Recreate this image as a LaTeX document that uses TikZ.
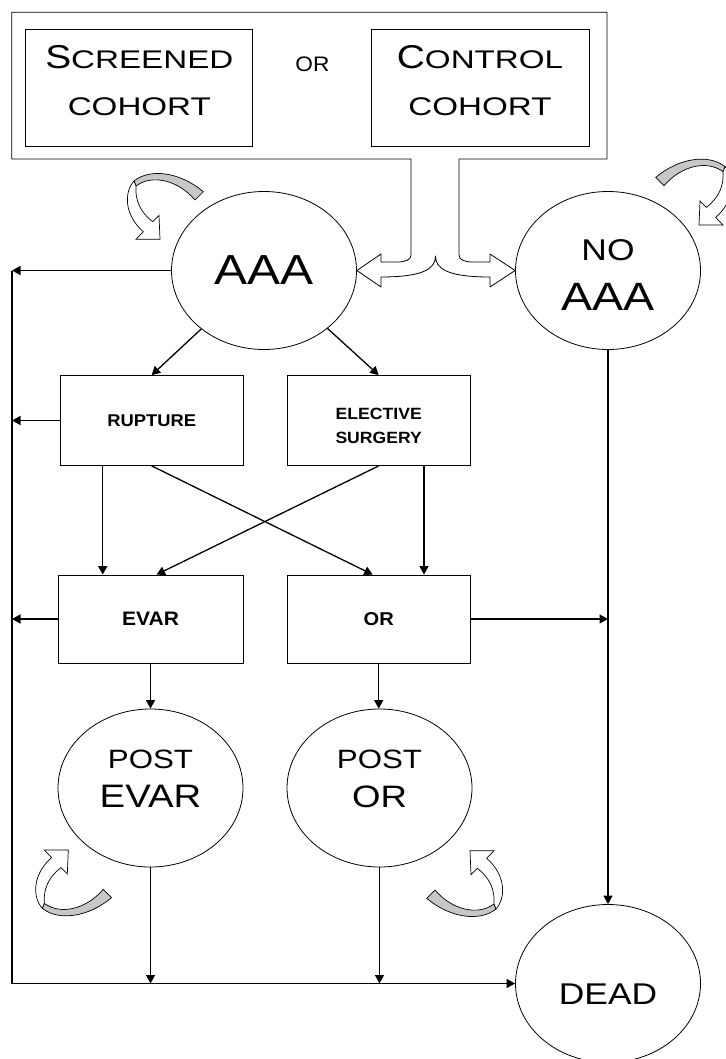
\documentclass[tikz,border=0pt]{standalone}
\usepackage{fontspec}
\setmainfont{Liberation Sans}[FakeStretch=1.18]
\newfontfamily\widefont{Liberation Sans}[FakeStretch=1.3]
\newfontfamily\boxfont{Liberation Sans}[FakeStretch=1.08]
\usepackage{tikz}
\usetikzlibrary{arrows.meta,shapes.geometric}

\newcommand{\fsz}[2]{\fontsize{#1}{#2}\selectfont}

\tikzset{
  state/.style={draw, ellipse, line width=0.8pt, minimum width=185pt, minimum height=158pt, inner sep=0pt, align=center},
  event/.style={draw, rectangle, line width=0.8pt, minimum width=183pt, minimum height=90pt, inner sep=0pt, align=center},
  cohort/.style={draw, rectangle, line width=0.8pt, minimum height=117pt, inner sep=0pt, align=center},
  frame/.style={line width=0.8pt, line join=round},
  flow/.style={line width=1.3pt, -{Triangle[length=8.5pt,width=9pt]}},
  looparrow/.pic={
    \filldraw[line width=0.7pt, fill=black!22] (43.3,-47.6) .. controls (20,-67.3) and (-10,-71.3) .. (-26,-58.3)
      -- (-24,-53.3) .. controls (-8,-65.3) and (18,-59.3) .. (35,-39.3) -- cycle;
    \filldraw[line width=0.7pt, fill=white] (-26,-58.3) .. controls (-36,-47.3) and (-36,-24.3) .. (-16.7,-7.6)
      -- (-24,0) -- (0,0) -- (-1,-24) -- (-7.3,-17.6)
      .. controls (-20,-27.3) and (-25,-39.3) .. (-24,-53.3) -- cycle;
  }
}

\begin{document}
\begin{tikzpicture}[x=1pt, y=-1pt]
    \useasboundingbox (0,0) rectangle (725,1059);

    % cohorts
    \node[cohort, minimum width=227pt, font=\widefont\fsz{25.5}{47}, text depth=14pt] (screened) at (139.3,87.5) {{\normalfont\fsz{33}{47}S}CREENED\\COHORT};
    \node[cohort, minimum width=218pt, font=\widefont\fsz{25.5}{47}, text depth=14pt] (control) at (480,87.5) {{\normalfont\fsz{33}{47}C}ONTROL\\COHORT};
    \node[font=\boxfont\fsz{21}{21}] (orword) at (312.5,64) {OR};

    % states
    \node[state, font=\fsz{42}{42}] (aaa) at (264,270.5) {AAA};
    \node[state, font=\fsz{39.5}{50}, text height=79pt] (noaaa) at (608,270.5) {{\fsz{30}{50}NO}\\AAA};
    \node[event, font=\boxfont\bfseries\fsz{17}{17}] (rupture) at (151.7,420.5) {RUPTURE};
    \node[event, font=\boxfont\bfseries\fsz{16.3}{24}, text height=46.7pt] (elective) at (378.7,420.5) {ELECTIVE\\SURGERY};
    \node[event, minimum width=185pt, minimum height=88pt, font=\boxfont\bfseries\fsz{19.5}{19.5}] (evar) at (150.5,619) {EVAR};
    \node[event, minimum height=88pt, font=\boxfont\bfseries\fsz{18.6}{18.6}] (orbox) at (378.7,619) {OR};
    \node[state, font=\fsz{32.5}{39}, text depth=17.7pt] (postevar) at (150.5,788) {{\fsz{26.5}{39}POST}\\EVAR};
    \node[state, font=\fsz{31}{39}, text depth=17.7pt] (postor) at (379.5,788) {{\fsz{26.5}{39}POST}\\OR};
    \node[state, font=\fsz{30}{30}, text height=42.7pt] (dead) at (608,983.5) {DEAD};

    % frame round the cohorts, ending in the double arrow
    \draw[frame] (411,159) -- (11.7,159) -- (11.7,12.3) -- (607,12.3) -- (607,159) -- (459,159) -- (459,255)
      .. controls (459,260) and (465,262) .. (473,262) -- (490,262) -- (490,254) -- (noaaa.west) -- (490,287) -- (490,277)
      .. controls (446,277) and (435.5,268) .. (435.5,256)
      .. controls (435.5,268) and (425,277) .. (381,277) -- (381,287) -- (aaa.east) -- (381,254) -- (381,262) -- (397,262)
      .. controls (405,262) and (411,260) .. (411,255) -- cycle;

    % staying in the same state
    \pic at (160,239.3) {looparrow};
    \pic[xscale=-1] at (699,225) {looparrow};
    \pic[yscale=-1] at (68.3,850) {looparrow};
    \pic[scale=-1] at (470,850.7) {looparrow};

    % transitions
    \coordinate (railtop) at (12,270.5);
    \coordinate (railbot) at (railtop |- dead.west);
    \draw[flow] (aaa) -- (rupture.north);
    \draw[flow] (aaa) -- (elective.north);
    \draw[flow] ([xshift=-49pt]rupture.south) -- ([xshift=-47.8pt]evar.north);
    \draw[flow] (rupture.south) -- ([xshift=-6pt]orbox.north);
    \draw[flow] (elective.south) -- ([xshift=6pt]evar.north);
    \draw[flow] ([xshift=45.3pt]elective.south) -- ([xshift=45.3pt]orbox.north);
    \draw[flow] (evar) -- (postevar);
    \draw[flow] (orbox.south) -- (orbox.south |- postor.north);
    \draw[flow] (noaaa.south) -- (dead.north);
    \draw[flow] (orbox.east) -- (orbox.east -| noaaa.south);

    % to death
    \draw[flow] (aaa.west) -- (aaa.west -| railtop);
    \draw[flow] (rupture.west) -- (rupture.west -| railtop);
    \draw[flow] (evar.west) -- (evar.west -| railtop);
    \draw[flow] (postevar.south) -- (postevar.south |- railbot);
    \draw[flow] (postor.south) -- (postor.south |- railbot);
    \draw[flow] (railtop) -- (railbot) -- (dead.west);
\end{tikzpicture}
\end{document}
